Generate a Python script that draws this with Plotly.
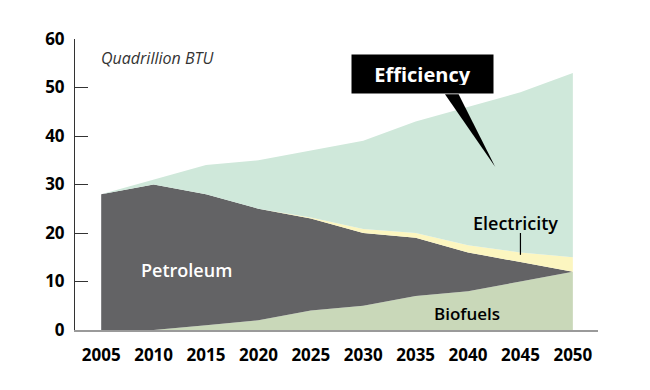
import plotly.graph_objects as go

years = [2005, 2010, 2015, 2020, 2025, 2030, 2035, 2040, 2045, 2050]
biofuels = [0, 0, 1, 2, 4, 5, 7, 8, 10, 12]
petroleum = [28, 30, 27, 23, 19, 15, 12, 8, 4, 0]
electricity = [0, 0, 0, 0, 0.2, 0.8, 1, 1.5, 2, 3]
total = [28, 31, 34, 35, 37, 39, 43, 46, 49, 53]
efficiency = [t - b - p - e for t, b, p, e in zip(total, biofuels, petroleum, electricity)]

y_ticks = [0, 10, 20, 30, 40, 50, 60]

series = [
    ("Biofuels", biofuels, "#c9d8b9"),
    ("Petroleum", petroleum, "#636365"),
    ("Electricity", electricity, "#fcf6c0"),
    ("Efficiency", efficiency, "#cfe8da"),
]

fig = go.Figure()
for name, vals, col in series:
    fig.add_trace(go.Scatter(
        x=years, y=vals, name=name, mode="lines", stackgroup="one",
        line=dict(width=0, color=col), fillcolor=col, hoverinfo="x+y+name",
    ))

FONT = "Open Sans"

fig.update_layout(
    width=642, height=382,
    margin=dict(l=67, r=52, t=31, b=60),
    paper_bgcolor="white", plot_bgcolor="white",
    showlegend=False,
    xaxis=dict(
        range=[2002.5, 2052.4], tickvals=years, ticktext=[str(y) for y in years],
        showgrid=False, zeroline=False, showline=True, linecolor="#9a9a9a", linewidth=2,
        ticks="", ticklabelstandoff=9,
        tickfont=dict(family=FONT, size=17, color="black", weight="bold"),
    ),
    yaxis=dict(
        range=[0, 60], tickvals=y_ticks, showgrid=False, zeroline=False,
        showline=True, linecolor="#333333", linewidth=1,
        ticks="inside", ticklen=13, tickcolor="#333333", tickwidth=1,
        ticklabelstandoff=6,
        tickfont=dict(family=FONT, size=17, color="black", weight="bold"),
    ),
)

# Unit label
fig.add_annotation(xref="paper", yref="paper", x=0.045, y=0.935, xanchor="left", yanchor="middle",
                   text="<i>Quadrillion BTU</i>", showarrow=False,
                   font=dict(family=FONT, size=16, color="#333333"))

# Efficiency callout wedge
fig.add_shape(type="path", xref="x", yref="y",
              path="M 2037.8 48.6 L 2039.1 48.6 L 2042.6 33.6 Z",
              fillcolor="black", line=dict(width=0), layer="above")
fig.add_annotation(x=2035.65, y=52.8, xref="x", yref="y", text="<b>Efficiency</b>", showarrow=False,
                   bgcolor="black", borderpad=8, xanchor="center", yanchor="middle",
                   font=dict(family=FONT, size=20, color="white"),
                   width=125, height=22)

# Electricity label and leader
fig.add_annotation(x=2044.5, y=22.1, xref="x", yref="y", text="Electricity", showarrow=False,
                   xanchor="center", yanchor="middle",
                   font=dict(family=FONT, size=18, color="black", weight=600))
fig.add_shape(type="line", xref="x", yref="y", x0=2045.0, x1=2045.0, y0=20.0, y1=15.5,
              line=dict(color="black", width=1.2), layer="above")

fig.add_annotation(x=2013.1, y=12.4, xref="x", yref="y", text="Petroleum", showarrow=False,
                   font=dict(family=FONT, size=18, color="white", weight=600))
fig.add_annotation(x=2039.9, y=3.5, xref="x", yref="y", text="Biofuels", showarrow=False,
                   font=dict(family=FONT, size=17, color="black", weight=600))

fig.write_html("out.html")
